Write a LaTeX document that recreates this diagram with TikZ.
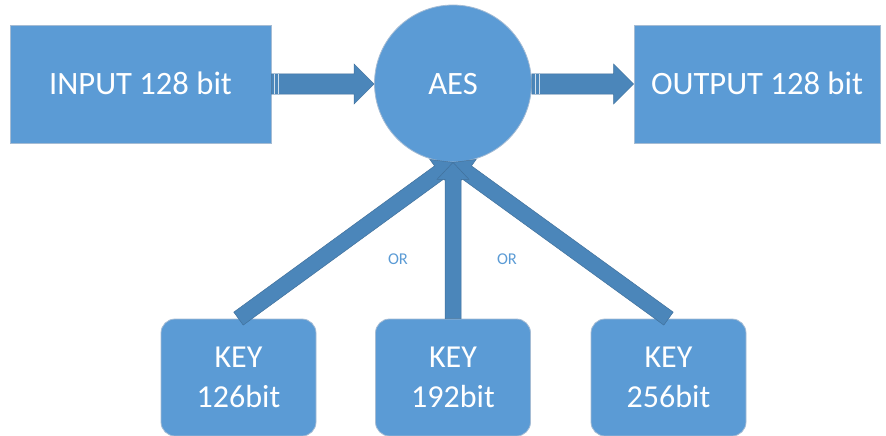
\documentclass[tikz,border=0pt]{standalone}
\usepackage{fontspec}
\setmainfont{Carlito}
\usetikzlibrary{calc}
\definecolor{boxblue}{RGB}{91,155,213}
\definecolor{arrowblue}{RGB}{75,134,186}
\definecolor{arrowedge}{RGB}{65,113,156}
\definecolor{boxedge}{RGB}{165,188,212}
% block arrow: #1 from, #2 to, #3 shaft half width, #4 head half width, #5 head length
\newcommand{\bkarrow}[5]{%
  \coordinate (bkC) at ($(#2)!#5!(#1)$);
  \filldraw[blockarrow]
    ($(#1)!#3!90:(#2)$) -- ($(bkC)!#3!-90:(#1)$) -- ($(bkC)!#4!-90:(#1)$) --
    (#2) -- ($(bkC)!#4!90:(#1)$) -- ($(bkC)!#3!90:(#1)$) -- ($(#1)!#3!-90:(#2)$) -- cycle;}
\tikzset{
  blockarrow/.style={fill=arrowblue, draw=arrowedge, line width=0.5pt, line join=miter},
  bigbox/.style={rectangle, fill=boxblue, draw=boxedge, line width=0.8pt, inner sep=0pt,
    text=white, font=\fontsize{32.6}{40}\selectfont, text height=21pt, text depth=0pt},
  keybox/.style={rectangle, rounded corners=14pt, fill=boxblue, draw=boxedge, line width=0.8pt,
    minimum width=155pt, minimum height=117pt, inner sep=0pt, align=center,
    text=white, font=\fontsize{32}{40}\selectfont},
  orlabel/.style={text=boxblue, font=\fontsize{16.5}{18}\selectfont, text height=10.6pt, text depth=0pt, inner sep=0pt},
  stripe/.style={white, line width=1pt, opacity=0.75}
}
\begin{document}
\begin{tikzpicture}[x=1pt,y=-1pt]
\useasboundingbox (0,0) rectangle (886,436);
\node[bigbox, minimum width=261pt, minimum height=118pt] (input) at (140.5,84) {INPUT 128 bit};
\node[bigbox, minimum width=246pt, minimum height=118pt] (output) at (757,84) {OUTPUT 128 bit};
\node[bigbox, circle, minimum size=157pt] (aes) at (453,83.5) {AES};
\node[keybox] (k1) at (238.5,377.5) {KEY\\126bit};
\node[keybox] (k2) at (453,377.5) {KEY\\192bit};
\node[keybox] (k3) at (668.5,377.5) {KEY\\256bit};
% horizontal striped arrows
\coordinate (inTip) at (input.east -| aes.west);
\bkarrow{input.east}{inTip}{10pt}{20pt}{20pt}
\draw[stripe] ($(input.east)+(3.5,-9.5)$) -- ($(input.east)+(3.5,9.5)$);
\draw[stripe] ($(input.east)+(7.5,-9.5)$) -- ($(input.east)+(7.5,9.5)$);
\coordinate (outStart) at (aes.east |- output.west);
\bkarrow{outStart}{output.west}{10pt}{20pt}{20pt}
\draw[stripe] ($(outStart)+(3.5,-9.5)$) -- ($(outStart)+(3.5,9.5)$);
\draw[stripe] ($(outStart)+(7.5,-9.5)$) -- ($(outStart)+(7.5,9.5)$);
% key arrows
\bkarrow{k1.north}{aes.south}{8pt}{16pt}{17pt}
\bkarrow{k3.north}{aes.south}{8pt}{16pt}{17pt}
\bkarrow{k2.north}{aes.south}{8pt}{16pt}{17pt}
\node[orlabel] (or1) at (398,259) {OR};
\node[orlabel] (or2) at (507,259) {OR};
\end{tikzpicture}
\end{document}
